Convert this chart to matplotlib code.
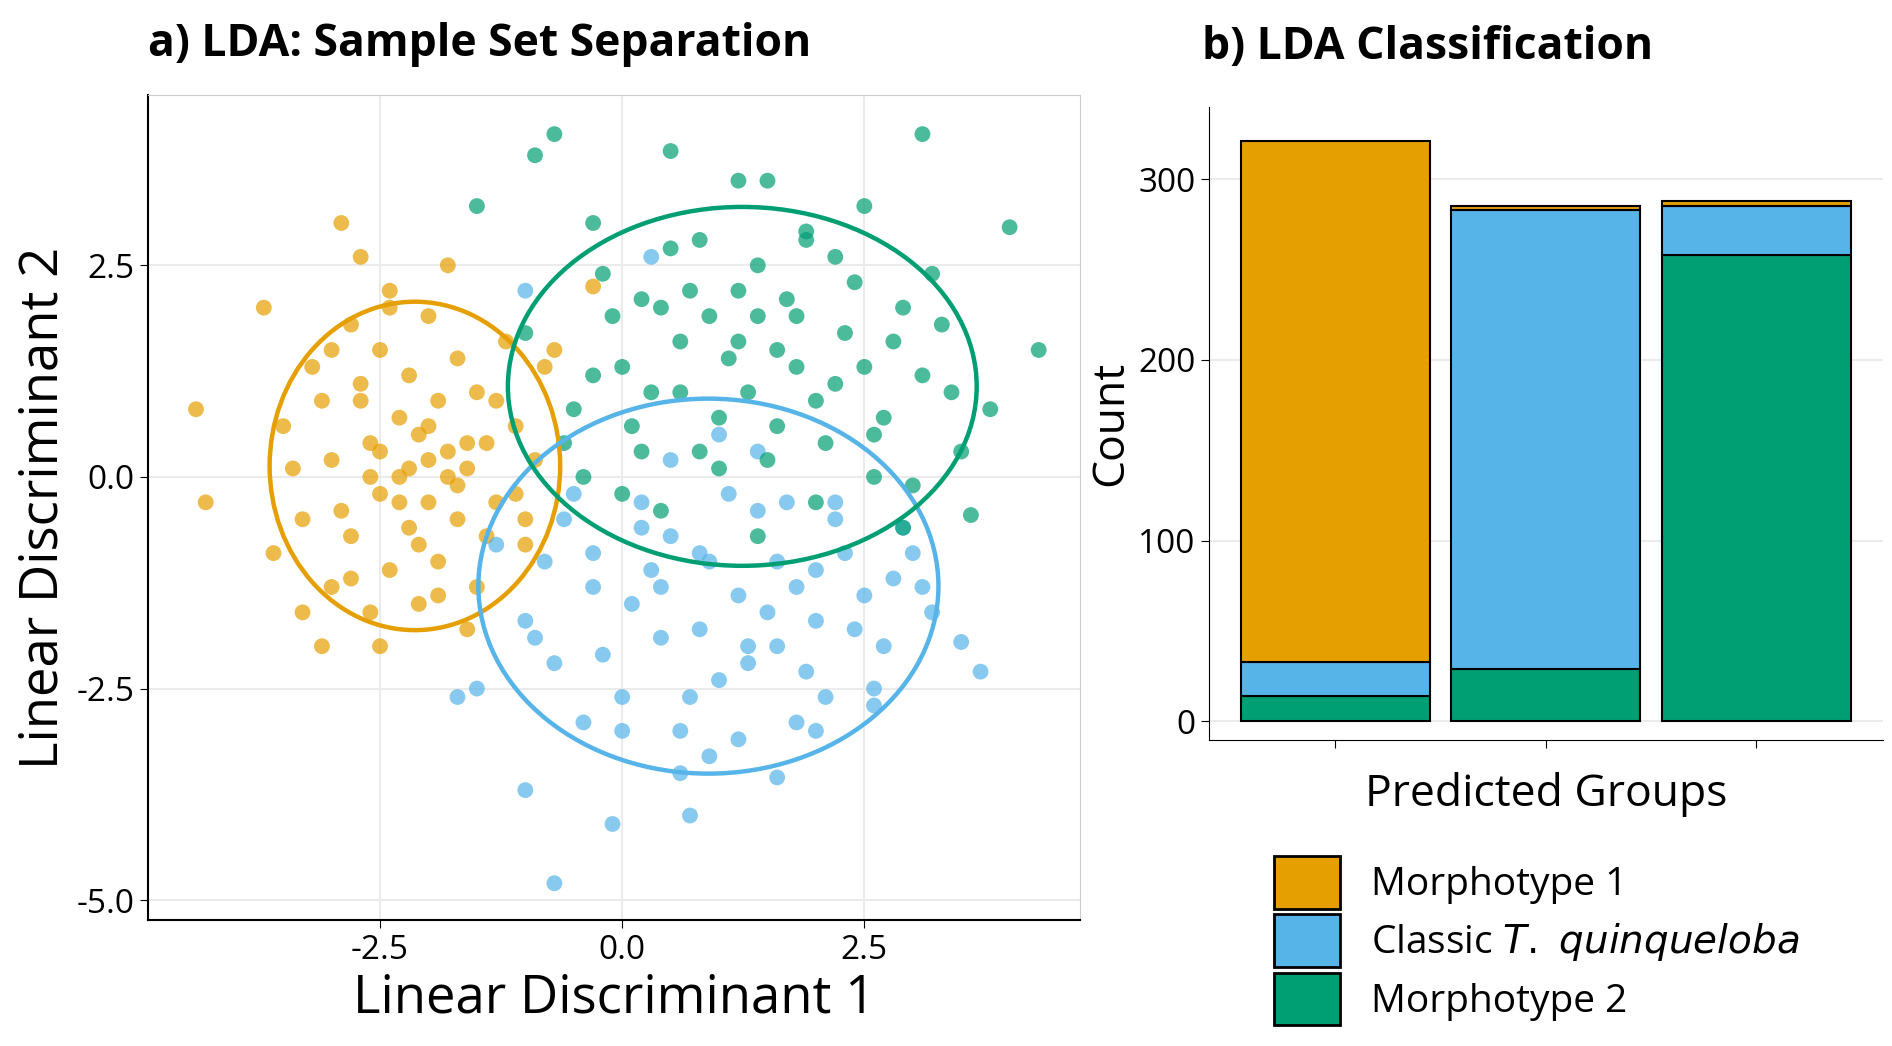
import matplotlib
matplotlib.use("Agg")
import matplotlib.pyplot as plt
from matplotlib.patches import Ellipse, Patch

plt.rcParams['font.family'] = ['Open Sans', 'DejaVu Sans']

groups = ["Morphotype 1", "Classic T. quinqueloba", "Morphotype 2"]
colors = ["#E69F00", "#56B4E9", "#009E73"]

m1_x = [-4.4,-4.3,-3.7,-2.9,-2.7,-3.1,-2.5,-1.6,-0.3,-3.6,-3.5,-3.3,-3.2,-3.0,-3.0,-2.8,-2.8,-2.7,-2.6,-2.6,-2.5,-2.5,-2.4,-2.4,-2.3,-2.3,-2.2,-2.2,-2.1,-2.1,-2.0,-2.0,-1.9,-1.9,-1.8,-1.8,-1.7,-1.7,-1.6,-1.5,-1.5,-1.4,-1.3,-1.2,-1.1,-1.0,-0.9,-0.8,-3.4,-3.1,-2.9,-2.6,-2.3,-2.0,-1.7,-1.4,-1.1,-3.3,-2.7,-2.2,-1.9,-1.3,-2.5,-2.1,-1.6,-2.8,-3.0,-2.4,-1.8,-2.0,-0.7,-1.0]
m1_y = [0.8,-0.3,2.0,3.0,2.6,-2.0,-2.0,-1.8,2.25,-0.9,0.6,-0.5,1.3,-1.3,0.2,1.8,-0.7,0.9,-1.6,0.4,1.5,-0.2,2.2,-1.1,0.7,0.0,1.2,-0.6,-1.5,0.5,1.9,-0.3,0.9,-1.0,2.5,0.3,-0.5,1.4,0.1,-1.3,1.0,0.4,-0.3,1.6,0.6,-0.8,0.2,1.3,0.1,0.9,-0.4,0.0,-0.3,0.6,-0.1,-0.7,-0.2,-1.6,1.1,0.1,-1.4,0.9,0.3,-0.8,0.4,-1.2,1.5,2.0,0.0,0.2,1.5,-0.5]

cq_x = [-0.7,-1.0,-0.1,0.7,1.6,3.7,3.5,-1.7,-1.5,2.0,0.3,-1.0,-1.3,-1.0,-0.7,-0.5,-0.3,0.0,0.2,0.4,0.6,0.8,1.0,1.2,1.4,1.6,1.8,2.0,2.2,2.4,2.6,2.8,3.0,3.2,-0.8,-0.4,0.1,0.5,0.9,1.3,1.7,2.1,2.5,2.9,-0.6,-0.2,0.3,0.7,1.1,1.5,1.9,2.3,2.7,0.0,0.4,0.8,1.2,1.6,2.0,-0.3,0.5,1.0,1.4,2.2,0.2,0.9,1.8,-0.9,3.1,2.6,0.6,1.3]
cq_y = [-4.8,-3.7,-4.1,-4.0,-3.55,-2.3,-1.95,-2.6,-2.5,-3.0,2.6,2.2,-0.8,-1.7,-2.2,-0.2,-1.3,-2.6,-0.6,-1.9,-3.0,-0.9,-2.4,-1.4,-0.4,-2.0,-2.9,-1.1,-0.5,-1.8,-2.5,-1.2,-0.9,-1.6,-1.0,-2.9,-1.5,-0.7,-3.3,-2.0,-0.3,-2.6,-1.4,-0.6,-0.5,-2.1,-1.1,-2.6,-0.2,-1.6,-2.3,-0.9,-2.0,-3.0,-1.3,-1.8,-3.1,-1.0,-1.7,-0.9,0.2,0.5,0.3,-0.3,-0.3,-1.0,-1.3,-1.9,-1.3,-2.7,-3.5,-2.2]

m2_x = [-0.7,-0.9,-0.3,0.5,-1.5,3.1,4.0,4.3,3.6,2.5,1.2,1.5,-1.0,-0.5,-0.2,0.0,0.2,0.4,0.6,0.8,1.0,1.2,1.4,1.6,1.8,2.0,2.2,2.4,2.6,2.8,3.0,3.2,3.4,-0.6,-0.1,0.3,0.7,1.1,1.5,1.9,2.3,2.7,3.1,3.5,-0.3,0.1,0.5,0.9,1.3,1.7,2.1,2.5,2.9,0.2,0.6,1.0,1.4,1.8,2.2,2.6,0.8,1.2,1.6,2.0,0.0,3.3,-0.4,2.9,1.4,0.4,1.9,3.8]
m2_y = [4.05,3.8,3.0,3.85,3.2,4.05,2.95,1.5,-0.45,3.2,3.5,3.5,1.7,0.8,2.4,1.3,0.3,2.0,1.0,2.8,0.1,1.6,2.5,0.6,1.9,-0.3,1.1,2.3,0.5,1.6,-0.1,2.4,1.0,0.4,1.9,1.0,2.2,1.4,0.2,2.9,1.7,0.7,1.2,0.3,1.2,0.6,2.7,1.9,1.0,2.1,0.4,1.3,2.0,2.1,1.6,0.7,1.9,1.3,2.6,0.0,0.3,2.2,1.5,0.9,-0.2,1.8,0.0,-0.6,-0.7,-0.4,2.8,0.8]

# ellipse specs: center x, center y, width, height
ell_cx = [-2.14, 0.89, 1.24]
ell_cy = [0.13, -1.29, 1.07]
ell_w = [3.0, 4.75, 4.84]
ell_h = [3.88, 4.43, 4.24]

bar_cats = ["Morphotype 1", "Classic", "Morphotype 2"]
bar_m2 = [14, 29, 258]
bar_cq = [19, 254, 27]
bar_m1 = [288, 2, 3]

fig = plt.figure(figsize=(18.92, 10.46), dpi=100)
ax = fig.add_axes([0.078, 0.12, 0.493, 0.789])
for xs, ys, c in [(m1_x, m1_y, colors[0]), (cq_x, cq_y, colors[1]), (m2_x, m2_y, colors[2])]:
    ax.scatter(xs, ys, s=130, color=c, alpha=0.7, edgecolors='none', zorder=2)
for i in range(3):
    ax.add_patch(Ellipse((ell_cx[i], ell_cy[i]), ell_w[i], ell_h[i], fill=False,
                         edgecolor=colors[i], lw=3.2, zorder=3))
ax.set_xlim(-4.9, 4.73)
ax.set_ylim(-5.24, 4.51)
ax.set_xticks([-2.5, 0, 2.5])
ax.set_yticks([-5, -2.5, 0, 2.5])
ax.set_xticklabels(["-2.5", "0.0", "2.5"])
ax.set_yticklabels(["-5.0", "-2.5", "0.0", "2.5"])
ax.grid(True, color='#ebebeb', lw=1.5)
ax.set_axisbelow(True)
for sp in ['top', 'right']:
    ax.spines[sp].set_color('#cccccc')
for sp in ['left', 'bottom']:
    ax.spines[sp].set_linewidth(1.5)
ax.tick_params(labelsize=24, length=6)
ax.set_xlabel("Linear Discriminant 1", fontsize=38)
ax.set_ylabel("Linear Discriminant 2", fontsize=38)
ax.set_title("a) LDA: Sample Set Separation", fontsize=32, fontweight='bold', loc='left', x=0.0, pad=28)

bx = fig.add_axes([0.639, 0.293, 0.356, 0.605])
pos = [0, 1, 2]
b1 = [a + b for a, b in zip(bar_m2, bar_cq)]
bx.bar(pos, bar_m2, width=0.9, color=colors[2], edgecolor='black', lw=1.5)
bx.bar(pos, bar_cq, width=0.9, bottom=bar_m2, color=colors[1], edgecolor='black', lw=1.5)
bx.bar(pos, bar_m1, width=0.9, bottom=b1, color=colors[0], edgecolor='black', lw=1.5)
bx.set_xlim(-0.6, 2.6)
bx.set_ylim(-10, 340)
bx.set_yticks([0, 100, 200, 300])
bx.set_xticks(pos)
bx.set_xticklabels([])
bx.grid(True, axis='y', color='#ebebeb', lw=1.5)
bx.set_axisbelow(True)
for sp in ['top', 'right']:
    bx.spines[sp].set_visible(False)
bx.tick_params(labelsize=24, length=6)
bx.set_xlabel("Predicted Groups", fontsize=32, labelpad=14)
bx.set_ylabel("Count", fontsize=32)
bx.set_title("b) LDA Classification", fontsize=32, fontweight='bold', loc='left', x=-0.01, pad=34)

handles = [Patch(facecolor=colors[0], edgecolor='black', lw=2),
           Patch(facecolor=colors[1], edgecolor='black', lw=2),
           Patch(facecolor=colors[2], edgecolor='black', lw=2)]
labels = ["Morphotype 1", "Classic $\\it{T.\\ quinqueloba}$", "Morphotype 2"]
fig.legend(handles, labels, loc='upper left', bbox_to_anchor=(0.655, 0.215), frameon=False,
           fontsize=28, handlelength=1.7, handleheight=1.7, labelspacing=0.15, handletextpad=0.8)

fig.savefig("out.png", dpi=100)
